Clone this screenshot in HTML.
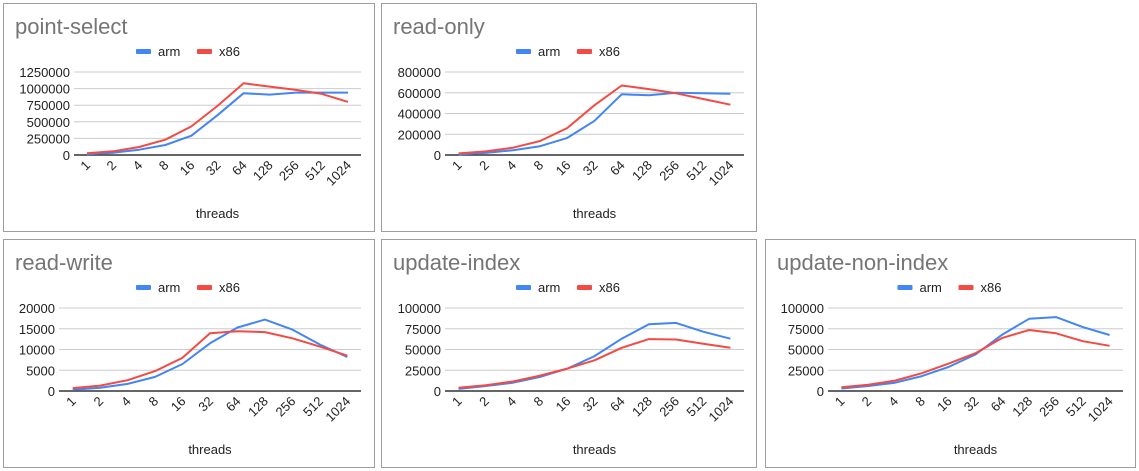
<!DOCTYPE html>
<html><head><meta charset="utf-8"><style>
body{margin:0;background:#fff;width:1139px;height:471px;overflow:hidden;font-family:"Liberation Sans",Arial,sans-serif}
.panel{position:absolute;border:1px solid #9e9e9e;box-sizing:border-box;background:#fff}
svg{display:block}
</style></head><body>
<div id="root"></div>
<script>
const categories=["1","2","4","8","16","32","64","128","256","512","1024"];
const titles=["point-select","read-only","read-write","update-index","update-non-index"];
const armPointSelect=[10000,35000,80000,150000,290000,600000,930000,910000,940000,940000,940000];
const x86PointSelect=[25000,55000,120000,230000,430000,740000,1080000,1030000,980000,920000,800000];
const armReadOnly=[5000,20000,45000,85000,165000,330000,585000,575000,600000,595000,590000];
const x86ReadOnly=[15000,35000,70000,135000,260000,480000,670000,635000,595000,540000,485000];
const armReadWrite=[300,800,1700,3400,6500,11500,15300,17200,14800,11200,8200];
const x86ReadWrite=[700,1300,2600,4800,8000,13900,14400,14200,12700,10700,8500];
const armUpdateIndex=[2500,6000,10000,17000,27000,42000,63000,80500,82000,71500,63000];
const x86UpdateIndex=[4000,7000,11500,18500,27000,37000,52000,62500,62000,57000,52000];
const armUpdateNonIndex=[3000,6000,10000,18000,29000,44000,68000,87000,89000,77000,67500];
const x86UpdateNonIndex=[4500,7500,12500,21500,33000,45500,64000,73500,69500,60000,54500];
const ticksPointSelect=[0,250000,500000,750000,1000000,1250000];
const ticksReadOnly=[0,200000,400000,600000,800000];
const ticksReadWrite=[0,5000,10000,15000,20000];
const ticksUpdate=[0,25000,50000,75000,100000];

const panels=[
 {left:3,top:3,w:372,h:229,pl:71,pr:358,arm:armPointSelect,x86:x86PointSelect,ticks:ticksPointSelect},
 {left:381,top:3,w:376,h:229,pl:64,pr:363,arm:armReadOnly,x86:x86ReadOnly,ticks:ticksReadOnly},
 {left:3,top:239,w:372,h:229,pl:56,pr:358,arm:armReadWrite,x86:x86ReadWrite,ticks:ticksReadWrite},
 {left:381,top:239,w:376,h:229,pl:64,pr:363,arm:armUpdateIndex,x86:x86UpdateIndex,ticks:ticksUpdate},
 {left:765,top:239,w:371,h:229,pl:63,pr:358,arm:armUpdateNonIndex,x86:x86UpdateNonIndex,ticks:ticksUpdate}
];
const NS="http://www.w3.org/2000/svg";
function mk(tag,attrs,parent){const e=document.createElementNS(NS,tag);for(const k in attrs)e.setAttribute(k,attrs[k]);if(parent)parent.appendChild(e);return e;}
const root=document.getElementById('root');
panels.forEach((p,i)=>{
 const div=document.createElement('div');
 div.className='panel';
 
 
 div.style.cssText=`left:${p.left}px;top:${p.top}px;width:${p.w}px;height:${p.h}px`;
 root.appendChild(div);
 const svg=mk('svg',{width:p.w-2,height:p.h-2});
 div.appendChild(svg);
 const ox=-1,oy=-1;
 const g=mk('g',{transform:`translate(${ox},${oy})`},svg);
 const t=mk('text',{x:12,y:31,fill:'#757575','font-size':22},g);
 t.textContent=titles[i];
 
 
 // legend
 const cx=p.w/2;
 const lg=mk('g',{},g);
 
 
 [['arm','#4285f4',-53],['x86','#f44a44',8]].forEach(([n,c,dx])=>{
  const eg=mk('g',{},lg);
  
  
  mk('rect',{x:cx+dx,y:46,width:15,height:5,fill:c,rx:1},eg);
  const lt=mk('text',{x:cx+dx+22,y:53,'font-size':13,fill:'#222'},eg);lt.textContent=n;
 });
 const y0=152,yTop=69,maxV=p.ticks[p.ticks.length-1];
 const ys=v=>y0-(v/maxV)*(y0-yTop);
 const step=(p.pr-p.pl)/categories.length;
 const xs=j=>p.pl+step*(j+0.5);
 p.ticks.forEach(v=>{
  const y=ys(v);
  const gl=mk('line',{x1:p.pl,x2:p.pr,y1:y,y2:y,stroke:v===0?'#333':'#ccc','stroke-width':v===0?1.5:1},g);
  
  
  const tl=mk('text',{x:p.pl-4,y:y+5,'text-anchor':'end','font-size':13,fill:'#222'},g);
  tl.textContent=String(v);
  
  
 });
 categories.forEach((c,j)=>{
  const x=xs(j)+4,y=163;
  const xl=mk('text',{x:x,y:y,'text-anchor':'end','font-size':13,fill:'#222',transform:`rotate(-45 ${x} ${y})`},g);
  xl.textContent=c;
  
  
 });
 const xt=mk('text',{x:(p.pl+p.pr)/2,y:215,'text-anchor':'middle','font-size':13,fill:'#222'},g);
 xt.textContent='threads';
 
 
 [['arm',p.arm,'#4285f4'],['x86',p.x86,'#f44a44']].forEach(([n,vals,c])=>{
  const d=vals.map((v,j)=>(j?'L':'M')+xs(j).toFixed(1)+','+ys(v).toFixed(1)).join(' ');
  const ln=mk('path',{d:d,fill:'none',stroke:c,'stroke-width':2,'stroke-linejoin':'round'},g);
  
  
 });
});
</script>
</body></html>
